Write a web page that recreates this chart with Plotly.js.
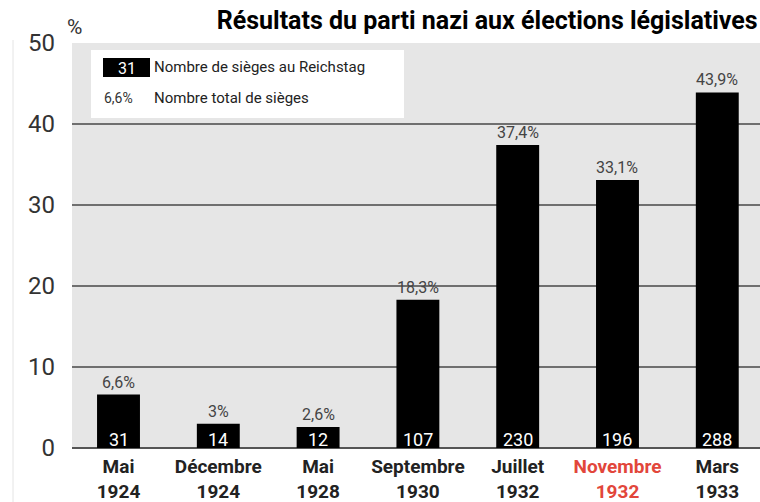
<!DOCTYPE html>
<html>
<head>
<meta charset="utf-8">
<script src="https://cdn.plot.ly/plotly-3.0.1.min.js"></script>
<style>html,body{margin:0;padding:0;background:#fff;}#chart{width:760px;height:502px;}</style>
</head>
<body>
<div id="chart"></div>
<script>
const categories = ['Mai 1924','Décembre 1924','Mai 1928','Septembre 1930','Juillet 1932','Novembre 1932','Mars 1933'];
const monthLabels = ['Mai','Décembre','Mai','Septembre','Juillet','Novembre','Mars'];
const yearLabels = ['1924','1924','1928','1930','1932','1932','1933'];
const votePercent = [6.6, 3, 2.6, 18.3, 37.4, 33.1, 43.9];
const percentLabels = ['6,6%','3%','2,6%','18,3%','37,4%','33,1%','43,9%'];
const seats = [31, 14, 12, 107, 230, 196, 288];
const highlighted = 'Novembre 1932';
const yTicks = [0, 10, 20, 30, 40, 50];

const W = 760, H = 502;
const M = {l: 72, r: 0, t: 43, b: 54};
const PW = W - M.l - M.r, PH = H - M.t - M.b;
const px = x => (x - M.l) / PW;
const py = y => (H - M.b - y) / PH;

const font = 'Roboto, "Open Sans", sans-serif';

const ticktext = categories.map((c, i) => {
  const col = c === highlighted ? '#e2463b' : '#222';
  return '<span style="color:' + col + '"><b>' + monthLabels[i] + '<br>' + yearLabels[i] + '</b></span>';
});

const annotations = [];
categories.forEach((c, i) => {
  annotations.push({x: c, y: votePercent[i], xref: 'x', yref: 'y', text: percentLabels[i],
    showarrow: false, yanchor: 'bottom', yshift: 1, font: {family: font, size: 16, color: '#444'}});
  annotations.push({x: c, y: 0, xref: 'x', yref: 'y', text: String(seats[i]),
    showarrow: false, yanchor: 'bottom', yshift: -4, font: {family: font, size: 18, color: '#fff'}});
});
// "%" unit
annotations.push({x: px(74), y: py(27), xref: 'paper', yref: 'paper', text: '%', showarrow: false,
  xanchor: 'center', yanchor: 'middle', font: {family: font, size: 21, color: '#333'}});
// legend texts
annotations.push({x: px(127), y: py(68), xref: 'paper', yref: 'paper', text: String(seats[0]), showarrow: false,
  xanchor: 'center', yanchor: 'middle', font: {family: font, size: 16, color: '#fff'}});
annotations.push({x: px(152), y: py(67), xref: 'paper', yref: 'paper', text: 'Nombre de sièges au Reichstag', showarrow: false,
  xanchor: 'left', yanchor: 'middle', font: {family: font, size: 15, color: '#222'}});
annotations.push({x: px(102), y: py(98), xref: 'paper', yref: 'paper', text: percentLabels[0], showarrow: false,
  xanchor: 'left', yanchor: 'middle', font: {family: font, size: 14, color: '#333'}});
annotations.push({x: px(152), y: py(98), xref: 'paper', yref: 'paper', text: 'Nombre total de sièges', showarrow: false,
  xanchor: 'left', yanchor: 'middle', font: {family: font, size: 15, color: '#222'}});

const shapes = [
  {type: 'rect', xref: 'paper', yref: 'paper', x0: px(91), x1: px(404), y0: py(118), y1: py(50),
    fillcolor: '#fff', line: {width: 0}, layer: 'below'},
  {type: 'rect', xref: 'paper', yref: 'paper', x0: px(103), x1: px(150), y0: py(77), y1: py(58),
    fillcolor: '#000', line: {width: 0}},
  {type: 'line', xref: 'paper', yref: 'paper', x0: px(13), x1: px(13), y0: py(502), y1: py(40),
    line: {color: '#e4e4e4', width: 1}}
];

const data = [{
  type: 'bar', x: categories, y: votePercent, width: 0.43,
  marker: {color: '#000', line: {width: 0}}, hoverinfo: 'none'
}];

const layout = {
  width: W, height: H, margin: M,
  paper_bgcolor: '#fff', plot_bgcolor: '#e6e6e6',
  showlegend: false,
  title: {text: '<b>Résultats du parti nazi aux élections législatives</b>', x: 0.997, xanchor: 'right', xref: 'container',
    y: 1 - 20 / H, yanchor: 'middle', yref: 'container', font: {family: font, size: 25, color: '#000'}},
  xaxis: {type: 'category', range: [-0.466, 6.428], tickvals: categories, ticktext: ticktext,
    showgrid: false, zeroline: false, showline: false, ticks: '', ticklabelstandoff: 5,
    tickfont: {family: font, size: 19, color: '#222'}, fixedrange: true},
  yaxis: {range: [0, 50], tickvals: yTicks, showgrid: true, gridcolor: '#6f6f6f', gridwidth: 1.5,
    zeroline: true, zerolinecolor: '#555', zerolinewidth: 2.5, showline: false, ticks: '',
    ticklabelstandoff: 16, tickfont: {family: font, size: 24, color: '#333'}, fixedrange: true},
  annotations: annotations, shapes: shapes
};

Plotly.newPlot('chart', data, layout, {displayModeBar: false, staticPlot: true});
</script>
</body>
</html>
